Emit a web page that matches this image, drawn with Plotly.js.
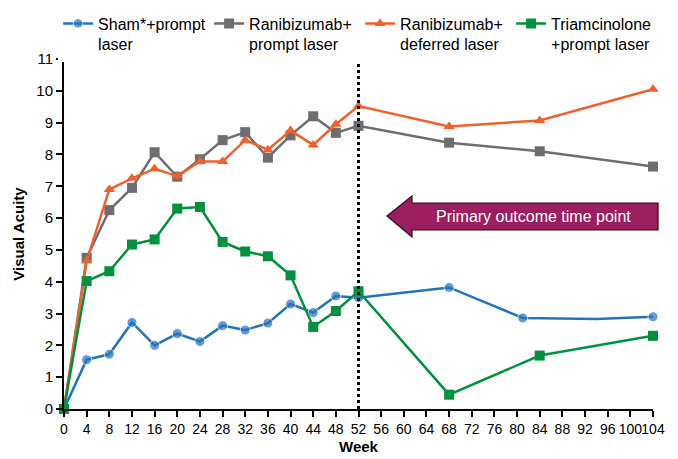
<!DOCTYPE html>
<html>
<head>
<meta charset="utf-8">
<script src="https://cdn.plot.ly/plotly-3.0.1.min.js"></script>
<style>html,body{margin:0;padding:0;background:#fff;}#chart{width:678px;height:459px;}</style>
</head>
<body>
<div id="chart"></div>
<script>
// Data
const shamWeeks = [0,4,8,12,16,20,24,28,32,36,40,44,48,52,68,81,94,104];
const shamVA    = [0,1.55,1.72,2.72,2.0,2.37,2.12,2.62,2.48,2.7,3.3,3.03,3.55,3.5,3.82,2.86,2.83,2.9];
const raniPromptWeeks = [0,4,8,12,16,20,24,28,32,36,40,44,48,52,68,84,104];
const raniPromptVA    = [0,4.75,6.25,6.95,8.07,7.3,7.85,8.45,8.7,7.9,8.6,9.2,8.68,8.9,8.37,8.1,7.62];
const raniDeferredWeeks = [0,4,8,12,16,20,24,28,32,36,40,44,48,52,68,84,104];
const raniDeferredVA    = [0,4.65,6.9,7.25,7.55,7.32,7.78,7.78,8.45,8.15,8.75,8.3,8.95,9.52,8.88,9.07,10.05];
const triamWeeks = [0,4,8,12,16,20,24,28,32,36,40,44,48,52,68,84,104];
const triamVA    = [0,4.02,4.33,5.17,5.33,6.3,6.35,5.25,4.95,4.8,4.2,2.58,3.08,3.7,0.45,1.68,2.3];
const seriesNames = ["Sham*+prompt<br>laser","Ranibizumab+<br>prompt laser","Ranibizumab+<br>deferred laser","Triamcinolone<br>+prompt laser"];
const xTicks = [0,4,8,12,16,20,24,28,32,36,40,44,48,52,56,60,64,68,72,76,80,84,88,92,96,100,104];
const yTicks = [0,1,2,3,4,5,6,7,8,9,10,11];
const primaryWeek = 52;
const annotationText = "Primary outcome time point";

const FONT = "Liberation Sans, Arial, sans-serif";
const shamSizes = shamWeeks.map(w => (w === 94 ? 0 : 10));

const traces = [
  {x: shamWeeks, y: shamVA, name: seriesNames[0], mode: "lines+markers",
   line: {color: "#2373BF", width: 2.5}, marker: {symbol: "circle", size: shamSizes, color: "#2373BF"}, cliponaxis: false},
  {x: raniPromptWeeks, y: raniPromptVA, name: seriesNames[1], mode: "lines+markers",
   line: {color: "#6D6E71", width: 2.5}, marker: {symbol: "square", size: 10, color: "#6D6E71"}, cliponaxis: false},
  {x: raniDeferredWeeks, y: raniDeferredVA, name: seriesNames[2], mode: "lines+markers",
   line: {color: "#F1602D", width: 2.5}, marker: {symbol: "triangle-up", size: 10, color: "#F1602D"}, cliponaxis: false},
  {x: triamWeeks, y: triamVA, name: seriesNames[3], mode: "lines+markers",
   line: {color: "#00913F", width: 2.5}, marker: {symbol: "square", size: 10, color: "#00913F"}, cliponaxis: false}
];

const layout = {
  width: 678, height: 459,
  margin: {l: 64, r: 25, t: 59, b: 50, autoexpand: false},
  paper_bgcolor: "#fff", plot_bgcolor: "#fff",
  font: {family: FONT, size: 14, color: "#000"},
  showlegend: true,
  legend: {orientation: "h", x: -0.01, xanchor: "left", y: 1.15, yanchor: "top",
           font: {family: FONT, size: 16, color: "#000"}, valign: "top",
           itemwidth: 30, entrywidth: 106, tracegroupgap: 0},
  xaxis: {range: [0, 104], tickvals: xTicks, ticktext: xTicks.map(String),
          showgrid: false, zeroline: false, showline: true, linecolor: "#000", linewidth: 2,
          ticks: "outside", ticklen: 6, tickwidth: 2, tickcolor: "#000",
          tickfont: {family: FONT, size: 14}, tickangle: 0,
          title: {text: "<b>Week</b>", font: {family: FONT, size: 15}, standoff: 6}},
  yaxis: {range: [0, 11], tickvals: yTicks, showgrid: false, zeroline: false,
          showline: true, linecolor: "#000", linewidth: 2,
          ticks: "outside", ticklen: 6, tickwidth: 2, tickcolor: "#000",
          tickfont: {family: FONT, size: 15},
          title: {text: "<b>Visual Acuity</b>", font: {family: FONT, size: 15}, standoff: 8}},
  shapes: [
    {type: "line", xref: "x", yref: "paper", x0: primaryWeek, x1: primaryWeek, y0: 0, y1: 1,
     line: {color: "#000", width: 3, dash: "dot"}},
    {type: "path", xref: "paper", yref: "paper",
     path: "M 0.5484 0.5514 L 0.5908 0.6086 L 0.5908 0.5886 L 1.0085 0.5886 L 1.0085 0.5114 L 0.5908 0.5114 L 0.5908 0.4914 Z",
     fillcolor: "#9C1D60", line: {color: "#2a0a1a", width: 1.2}}
  ],
  annotations: [
    {xref: "paper", yref: "paper", x: 0.797, y: 0.5514, text: annotationText, showarrow: false,
     font: {family: FONT, size: 16, color: "#fff"}, xanchor: "center", yanchor: "middle"}
  ]
};

Plotly.newPlot("chart", traces, layout, {displayModeBar: false, staticPlot: true});
</script>
</body>
</html>
